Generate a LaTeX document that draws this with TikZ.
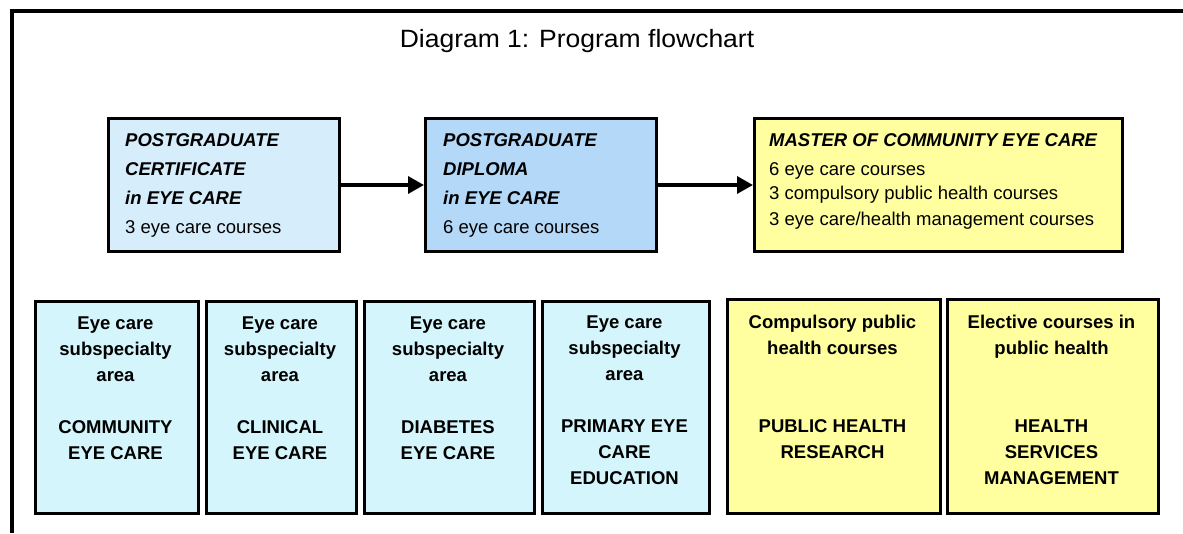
\documentclass[tikz,border=0pt]{standalone}
\usepackage{fontspec}
\setmainfont{Liberation Sans}
\newfontfamily\titlefont[FakeStretch=1.06]{Liberation Sans}
\usetikzlibrary{arrows.meta}
\definecolor{certblue}{RGB}{214,237,251}
\definecolor{dipblue}{RGB}{180,216,248}
\definecolor{masteryellow}{RGB}{255,255,160}
\definecolor{subcyan}{RGB}{212,245,252}
\tikzset{
  box/.style={draw=black, line width=3pt, inner sep=0pt, anchor=north west},
  toptext/.style={anchor=north west, inner sep=0pt, align=left,
    font=\fontsize{18.5}{29}\selectfont},
  bottext/.style={anchor=north, inner sep=0pt, align=center,
    font=\bfseries\fontsize{18.5}{26}\selectfont},
  flow/.style={line width=3.5pt, -{Triangle[length=16pt,width=17pt]}},
}
\begin{document}
\begin{tikzpicture}[x=1pt,y=-1pt]
\useasboundingbox (0,0) rectangle (1183,533);
\fill[white] (0,0) rectangle (1183,533);
% frame
\draw[line width=4pt] (12,533) -- (12,11) -- (1183,11);
% title
\node[font=\titlefont\fontsize{25}{30}\selectfont, anchor=base] (title) at (577,47) {Diagram 1: Program flowchart};
% top boxes
\node[box, fill=certblue, minimum width=231, minimum height=133] (pgc) at (107,117) {};
\node[box, fill=dipblue, minimum width=231, minimum height=133] (pgd) at (424,117) {};
\node[box, fill=masteryellow, minimum width=368, minimum height=133] (mce) at (753,117) {};
\node[toptext] (pgct) at (125,133) {\textbf{\textit{POSTGRADUATE}}\\\textbf{\textit{CERTIFICATE}}\\\textbf{\textit{in EYE CARE}}\\3 eye care courses};
\node[toptext] (pgdt) at (443,133) {\textbf{\textit{POSTGRADUATE}}\\\textbf{\textit{DIPLOMA}}\\\textbf{\textit{in EYE CARE}}\\6 eye care courses};
\node[toptext] (mcet) at (769,133) {\textbf{\textit{MASTER OF COMMUNITY EYE CARE}}\\6 eye care courses\\[-5pt]3 compulsory public health courses\\[-3pt]3 eye care/health management courses};
\draw[flow] (pgc.east) -- (pgd.west);
\draw[flow] (pgd.east) -- (mce.west);
% bottom boxes
\node[box, fill=subcyan, minimum width=163, minimum height=212] (ba) at (34,300) {};
\node[box, fill=subcyan, minimum width=150, minimum height=212] (bb) at (205,300) {};
\node[box, fill=subcyan, minimum width=170, minimum height=212] (bc) at (363,300) {};
\node[box, fill=subcyan, minimum width=167, minimum height=212] (bd) at (541,300) {};
\node[box, fill=masteryellow, minimum width=213, minimum height=214] (be) at (726,298) {};
\node[box, fill=masteryellow, minimum width=211, minimum height=214] (bf) at (946,298) {};
\node[bottext] (bat) at (115.5,316.5) {Eye care\\subspecialty\\area\\[26pt]COMMUNITY\\EYE CARE};
\node[bottext] (bbt) at (280,316.5) {Eye care\\subspecialty\\area\\[26pt]CLINICAL\\EYE CARE};
\node[bottext] (bct) at (448,316.5) {Eye care\\subspecialty\\area\\[26pt]DIABETES\\EYE CARE};
\node[bottext] (bdt) at (624.5,315.5) {Eye care\\subspecialty\\area\\[26pt]PRIMARY EYE\\CARE\\EDUCATION};
\node[bottext] (bet) at (832.5,315) {Compulsory public\\health courses\\[52pt]PUBLIC HEALTH\\RESEARCH};
\node[bottext] (bft) at (1051.5,315) {Elective courses in\\public health\\[52pt]HEALTH\\SERVICES\\MANAGEMENT};
\end{tikzpicture}
\end{document}
